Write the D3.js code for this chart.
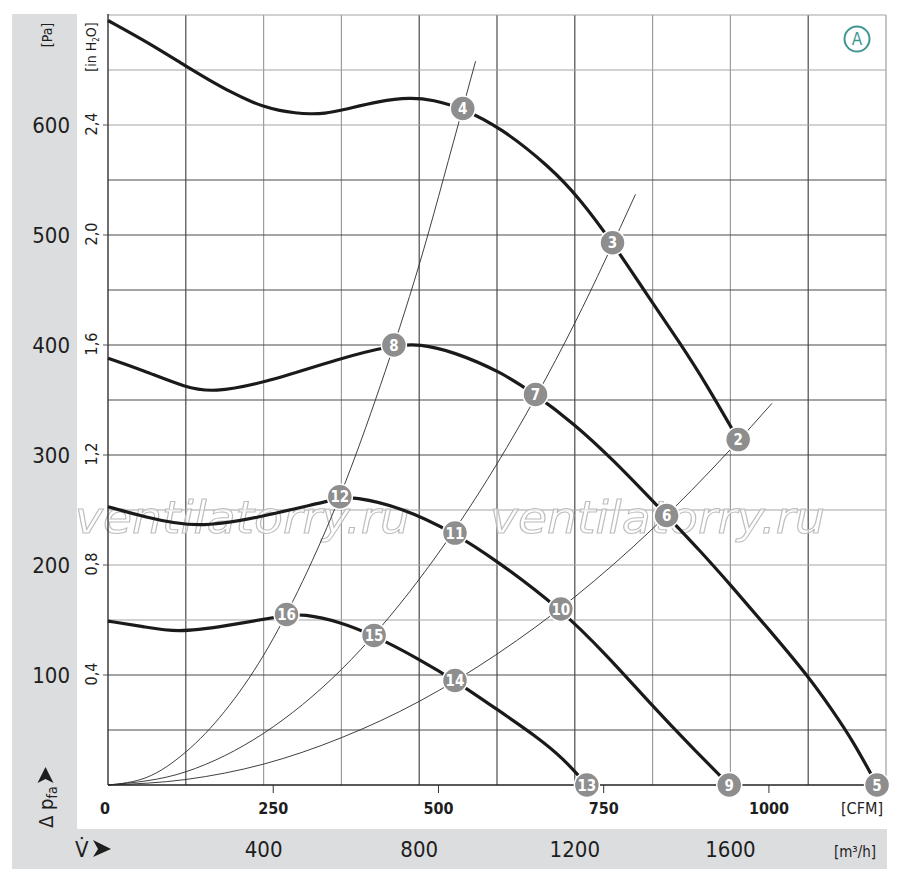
<!DOCTYPE html>
<html>
<head>
<meta charset="utf-8">
<script src="https://cdn.jsdelivr.net/npm/d3@7"></script>
<style>
  body { margin: 0; background: #fff; }
  svg { display: block; }
  text { font-family: "Liberation Sans Narrow", "DejaVu Sans Condensed", "Roboto", sans-serif; }
</style>
</head>
<body>
<svg id="chart" width="900" height="880"></svg>
<script>
// ---------- DATA (air flow in m³/h, static pressure in Pa) ----------
const flowTicks = [400, 800, 1200, 1600];          // m³/h labels
const cfmTicks = [0, 250, 500, 750, 1000];         // CFM labels
const paTicks = [100, 200, 300, 400, 500, 600];    // Pa labels
const inH2OTicks = ["0,4", "0,8", "1,2", "1,6", "2,0", "2,4"];

// fan characteristic curves
const curve1 = [[0,695],[108,674],[202,653],[262,640.5],[321,629],[360,622.5],[398,617],[442,613],[481,611],[519,610],[558,610.5],[596,613],[700,622],[776,625],[835,623],[912,615],[1008,598],[1136,562],[1213,533],[1297,493],[1385,446],[1470,402],[1539,364],[1620,314]];
const curve2 = [[0,388],[90,377],[202,361],[270,357],[398,365],[596,388],[735,400],[802,401],[887,394],[1008,376],[1099,355],[1196,329],[1295,297],[1436,245],[1522,213],[1600,182],[1700,141],[1800,99],[1864,67],[1915,40],[1977,0]];
const curve3 = [[0,253],[91,244],[228,233],[399,244],[596,261],[630,262],[751,253],[892,229],[999,204],[1164,160],[1282,118],[1402,71],[1488,39],[1597,0]];
const curve4 = [[0,149],[91,144],[177,138.5],[296,144],[459,154.5],[501,155.5],[596,148.5],[684,136],[802,114],[892,95],[999,69],[1102,44],[1171,24],[1231,0]];

// system resistance curves (thin)
const sysA = [[0,0],[100,7],[200,30],[300,67],[400,118],[500,185],[600,266],[700,363],[800,473],[900,600],[945,658]];
const sysB = [[0,0],[200,12],[400,47],[600,105],[800,187],[1000,292],[1200,420],[1356,537]];
const sysC = [[0,0],[200,5],[400,19],[600,43],[800,76],[1000,119],[1200,171],[1400,233],[1600,305],[1707,347]];

// numbered operating points
const pointIds  = [4, 3, 2, 8, 7, 6, 5, 12, 11, 10, 9, 16, 15, 14, 13];
const pointFlow = [912, 1297, 1620, 735, 1099, 1436, 1977, 596, 892, 1164, 1597, 459, 684, 892, 1231];
const pointPa   = [615, 493, 314, 400, 355, 245, 0, 262, 229, 160, 0, 155, 136, 95, 0];

const CFM_TO_M3H = 1.699;
const watermark = "ventilatorry.ru";

// ---------- LAYOUT ----------
const svg = d3.select("#chart");
const L = 108, R = 886, T = 15, B = 785;
const x = d3.scaleLinear().domain([0, 2000]).range([L, R]);
const xCfm = d3.scaleLinear().domain([0, 2000 / CFM_TO_M3H]).range([L, R]);
const y = d3.scaleLinear().domain([0, 700]).range([B, T]);
const yIn = d3.scaleLinear().domain([0, 2.8]).range([B, T]);

const gray = "#dcdddf";
svg.append("rect").attr("x", 12).attr("y", 14).attr("width", 65).attr("height", 855).attr("fill", gray);
svg.append("rect").attr("x", 12).attr("y", 829).attr("width", 875).attr("height", 40).attr("fill", gray);

// ---------- GRID ----------
const grid = svg.append("g");
const vLines = d3.range(200, 2001, 200);
const lightV = new Set([400, 600, 1400, 1600, 2000]);
grid.selectAll("line.v").data(vLines).join("line")
  .attr("x1", d => x(d)).attr("x2", d => x(d)).attr("y1", y(700)).attr("y2", y(0))
  .attr("stroke", d => lightV.has(d) ? "#9d9d9d" : "#4a4a4a").attr("stroke-width", 1.2);
const hLines = d3.range(50, 701, 50);
const lightH = new Set([700, 650, 600, 250, 200, 150]);
grid.selectAll("line.h").data(hLines).join("line")
  .attr("x1", x(0)).attr("x2", x(2000)).attr("y1", d => y(d)).attr("y2", d => y(d))
  .attr("stroke", d => lightH.has(d) ? "#a3a3a3" : "#4a4a4a").attr("stroke-width", 1.2);

// ---------- WATERMARK (behind the curves) ----------
[[75, 533], [490, 533]].forEach(([wx, wy]) => {
  svg.append("text").attr("x", wx).attr("y", wy).text(watermark)
    .attr("font-family", "Liberation Sans, DejaVu Sans, sans-serif")
    .attr("font-style", "italic").attr("font-size", 44)
    .attr("textLength", 335).attr("lengthAdjust", "spacingAndGlyphs")
    .attr("fill", "#fff").attr("fill-opacity", 0.6)
    .attr("stroke", "#bdbdbd").attr("stroke-width", 1);
});

// axes lines
svg.append("line").attr("x1", L).attr("x2", L).attr("y1", T - 1).attr("y2", B).attr("stroke", "#222").attr("stroke-width", 1.3);
svg.append("line").attr("x1", L).attr("x2", R).attr("y1", B).attr("y2", B).attr("stroke", "#222").attr("stroke-width", 1.3);

// CFM ticks (below axis)
svg.append("g").selectAll("line").data(cfmTicks.slice(1)).join("line")
  .attr("x1", d => xCfm(d)).attr("x2", d => xCfm(d)).attr("y1", B).attr("y2", B + 8)
  .attr("stroke", "#333").attr("stroke-width", 1);
// in H2O ticks (left of axis)
svg.append("g").selectAll("line").data(inH2OTicks).join("line")
  .attr("x1", L - 5).attr("x2", L).attr("y1", d => yIn(+d.replace(",", "."))).attr("y2", d => yIn(+d.replace(",", ".")))
  .attr("stroke", "#555").attr("stroke-width", 1);

// ---------- CURVES ----------
const thin = d3.line().x(d => x(d[0])).y(d => y(d[1])).curve(d3.curveMonotoneX);
const smooth = d3.line().x(d => x(d[0])).y(d => y(d[1])).curve(d3.curveBasis);
[sysA, sysB, sysC].forEach(s => svg.append("path").attr("d", thin(s))
  .attr("fill", "none").attr("stroke", "#2a2a2a").attr("stroke-width", 0.9));
[curve1, curve2, curve3, curve4].forEach(c => svg.append("path").attr("d", smooth(c))
  .attr("fill", "none").attr("stroke", "#1a1a1a").attr("stroke-width", 3.2).attr("stroke-linejoin", "round"));

// ---------- MARKERS ----------
const pts = pointIds.map((id, i) => ({ id, v: pointFlow[i], p: pointPa[i] }));
const mk = svg.append("g").selectAll("g").data(pts).join("g")
  .attr("transform", d => `translate(${x(d.v)},${y(d.p)})`);
mk.append("circle").attr("r", 12.5).attr("fill", "#8e8e8e").attr("stroke", "#fff").attr("stroke-width", 1.5);
mk.append("text").attr("text-anchor", "middle").attr("y", 5.5)
  .attr("font-size", 15).attr("font-weight", "bold").attr("fill", "#fff").text(d => d.id);

// ---------- LABELS ----------
const ink = "#1e1e1e";
// Pa labels
svg.append("g").selectAll("text").data(paTicks).join("text")
  .attr("x", 70).attr("y", d => y(d) + 8).attr("text-anchor", "end")
  .attr("font-size", 22).attr("fill", ink).text(d => d);
// in H2O labels (rotated)
svg.append("g").selectAll("text").data(inH2OTicks).join("text")
  .attr("transform", d => `translate(97,${yIn(+d.replace(",", ".")) - 1}) rotate(-90)`)
  .attr("text-anchor", "middle").attr("font-size", 16).attr("fill", ink).text(d => d);
// units
svg.append("text").attr("transform", "translate(52,35) rotate(-90)").attr("text-anchor", "middle")
  .attr("font-size", 14).attr("fill", ink).text("[Pa]");
const inh = svg.append("text").attr("transform", "translate(96,47) rotate(-90)").attr("text-anchor", "middle")
  .attr("font-size", 14).attr("fill", ink);
inh.append("tspan").text("[in H");
inh.append("tspan").attr("font-size", 8).attr("dy", 3).text("2");
inh.append("tspan").attr("dy", -3).text("O]");

// CFM labels
svg.append("g").selectAll("text").data(cfmTicks).join("text")
  .attr("x", d => d === 0 ? 105 : xCfm(d)).attr("y", 814).attr("text-anchor", "middle")
  .attr("font-size", 16).attr("font-weight", "bold").attr("fill", ink).text(d => d);
svg.append("text").attr("x", 862).attr("y", 814).attr("text-anchor", "middle")
  .attr("font-size", 16).attr("fill", ink).text("[CFM]");
// m³/h labels
svg.append("g").selectAll("text").data(flowTicks).join("text")
  .attr("x", d => x(d)).attr("y", 857).attr("text-anchor", "middle")
  .attr("font-size", 22).attr("fill", ink).text(d => d);
svg.append("text").attr("x", 855).attr("y", 857).attr("text-anchor", "middle")
  .attr("font-size", 15).attr("fill", ink).text("[m³/h]");

// V̇ ➤
svg.append("text").attr("x", 75).attr("y", 857).attr("font-size", 22).attr("fill", ink).text("V\u0307");
svg.append("path").attr("d", "M93,840 L111,849 L93,857 L98,849 Z").attr("fill", ink);

// Δ p_fa ➤ (rotated)
const dp = svg.append("text").attr("transform", "translate(53,828) rotate(-90)")
  .attr("font-size", 20).attr("fill", ink);
dp.append("tspan").text("Δ p");
dp.append("tspan").attr("font-size", 14).attr("dy", 4).text("fa");
svg.append("path").attr("d", "M45.5,767 L53.5,783 L45.5,779 L37.5,783 Z").attr("fill", ink);

// circled A
svg.append("circle").attr("cx", 857).attr("cy", 39).attr("r", 12.5).attr("fill", "#fff")
  .attr("stroke", "#3f9690").attr("stroke-width", 2);
svg.append("text").attr("x", 857).attr("y", 45).attr("text-anchor", "middle")
  .attr("font-size", 17).attr("fill", "#3f9690").text("A");
</script>
</body>
</html>
